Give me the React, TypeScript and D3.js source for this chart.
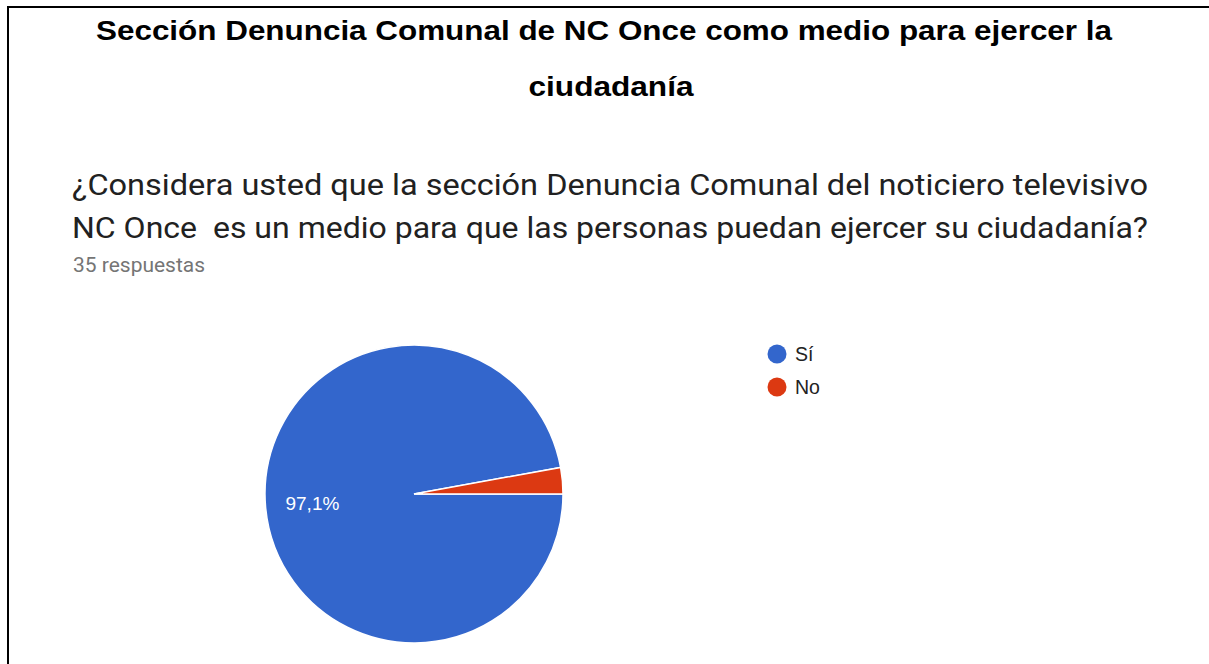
import React from "react";
import * as d3 from "d3";

const titleLines = [
  "Sección Denuncia Comunal de NC Once como medio para ejercer la",
  "ciudadanía",
];
const questionLines = [
  "¿Considera usted que la sección Denuncia Comunal del noticiero televisivo",
  "NC Once  es un medio para que las personas puedan ejercer su ciudadanía?",
];
const responsesLabel = "35 respuestas";
const categories = ["Sí", "No"];
const values = [34, 1];
const colors = ["#3366cc", "#dc3912"];

const W = 1209;
const H = 664;

export default function App() {
  const cx = 414;
  const cy = 494;
  const r = 149;
  const data = categories.map((c, i) => ({ c, v: values[i], color: colors[i] }));
  const pie = d3
    .pie<any>()
    .sort(null)
    .value((d) => d.v)
    .startAngle(Math.PI / 2)
    .endAngle(Math.PI / 2 + 2 * Math.PI);
  const arcs = pie(data);
  const arc = d3.arc<any>().innerRadius(0).outerRadius(r);
  const labelArc = d3.arc<any>().innerRadius(102).outerRadius(102);
  const total = d3.sum(values);
  const fmt = (v: number) =>
    ((v / total) * 100).toFixed(1).replace(".", ",") + "%";

  const titleWidths = [1016, 165];
  const titleCenters = [604, 611];

  return (
    <svg
      width={W}
      height={H}
      style={{ position: "absolute", left: 0, top: 0, background: "#fff" }}
    >
      <rect x={0} y={0} width={W} height={H} fill="#fff" />
      <line x1={8} y1={7} x2={W} y2={7} stroke="#000" strokeWidth={2} />
      <line x1={8} y1={6} x2={8} y2={H} stroke="#000" strokeWidth={2} />
      {titleLines.map((t, i) => (
        <text
          key={i}
          x={titleCenters[i]}
          y={40 + i * 56}
          textAnchor="middle"
          fontFamily="'Liberation Sans', Arial, sans-serif"
          fontWeight="bold"
          fontSize={28}
          fill="#000"
          textLength={titleWidths[i]}
          lengthAdjust="spacingAndGlyphs"
        >
          {t}
        </text>
      ))}
      {questionLines.map((t, i) => (
        <text
          key={i}
          x={72}
          y={195 + i * 43}
          fontFamily="Roboto, sans-serif"
          fontSize={29}
          fill="#212121"
          textLength={1076}
          lengthAdjust="spacingAndGlyphs"
          style={{ whiteSpace: "pre" }}
        >
          {t}
        </text>
      ))}
      <text
        x={73}
        y={272}
        fontFamily="Roboto, sans-serif"
        fontSize={19.5}
        fill="#757575"
        textLength={132}
        lengthAdjust="spacingAndGlyphs"
      >
        {responsesLabel}
      </text>
      <g transform={`translate(${cx},${cy})`}>
        {arcs.map((a, i) => (
          <path key={i} d={arc(a) as string} fill={a.data.color} stroke="#fff" strokeWidth={1.5} />
        ))}
        {arcs.map((a, i) => {
          const frac = a.data.v / total;
          if (frac < 0.05) return null;
          const [lx, ly] = labelArc.centroid(a);
          return (
            <text
              key={"l" + i}
              x={lx}
              y={ly + 7}
              textAnchor="middle"
              fontFamily="'Liberation Sans', Arial, sans-serif"
              fontSize={19}
              fill="#fff"
            >
              {fmt(a.data.v)}
            </text>
          );
        })}
      </g>
      {data.map((d, i) => (
        <g key={i} transform={`translate(777,${354 + i * 33})`}>
          <circle r={9.5} fill={d.color} />
          <text
            x={18}
            y={7}
            fontFamily="'Liberation Sans', Arial, sans-serif"
            fontSize={19.5}
            fill="#222"
          >
            {d.c}
          </text>
        </g>
      ))}
    </svg>
  );
}
